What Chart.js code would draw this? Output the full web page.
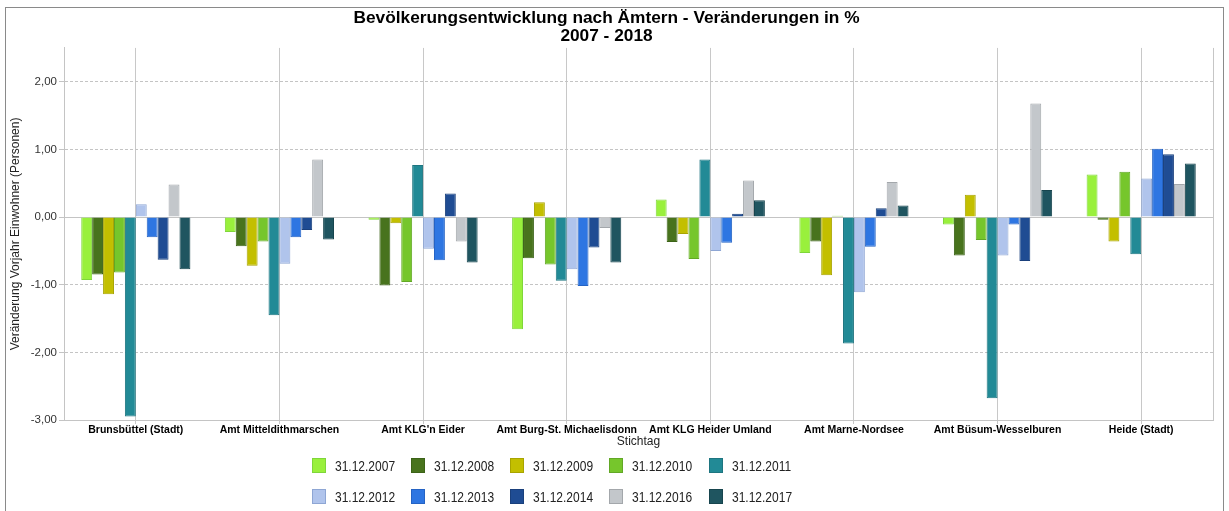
<!DOCTYPE html>
<html>
<head>
<meta charset="utf-8">
<script src="https://cdn.jsdelivr.net/npm/chart.js@4/dist/chart.umd.min.js"></script>
<style>
  html, body { margin: 0; padding: 0; background: #fff; }
  #wrap { position: relative; width: 1229px; height: 511px; overflow: hidden; }
  #frame { position: absolute; left: 5px; top: 7px; width: 1219px; height: 600px; border: 1px solid #8a8a8a; box-sizing: border-box; pointer-events: none; }
  canvas { position: absolute; left: 0; top: 0; }
  #legend { position: absolute; left: 0; top: 0; width: 1229px; height: 511px; pointer-events: none; font-family: "Liberation Sans", Arial, sans-serif; }
  .item { position: absolute; height: 15px; }
  .box { position: absolute; left: 0; top: 0; width: 14px; height: 15px; border: 1px solid; box-sizing: border-box; }
  .lbl { position: absolute; left: 23px; top: -1px; font-size: 15px; line-height: 17px; color: #222; white-space: nowrap; transform: scaleX(0.80); transform-origin: left center; }
</style>
</head>
<body>
<div id="wrap">
  <canvas id="c" width="1229" height="511"></canvas>
  <div id="legend"></div>
  <div id="frame"></div>
</div>
<script>
// ---- data ----
const categories = ["Brunsbüttel (Stadt)", "Amt Mitteldithmarschen", "Amt KLG'n Eider", "Amt Burg-St. Michaelisdonn", "Amt KLG Heider Umland", "Amt Marne-Nordsee", "Amt Büsum-Wesselburen", "Heide (Stadt)"];
const seriesNames = ["31.12.2007", "31.12.2008", "31.12.2009", "31.12.2010", "31.12.2011", "31.12.2012", "31.12.2013", "31.12.2014", "31.12.2016", "31.12.2017"];
const s2007 = [-0.93, -0.22, -0.04, -1.66, 0.26, -0.53, -0.11, 0.63];
const s2008 = [-0.85, -0.43, -1.01, -0.61, -0.37, -0.36, -0.57, -0.04];
const s2009 = [-1.14, -0.72, -0.09, 0.22, -0.25, -0.86, 0.33, -0.36];
const s2010 = [-0.82, -0.36, -0.96, -0.70, -0.62, 0.02, -0.34, 0.67];
const s2011 = [-2.95, -1.45, 0.77, -0.94, 0.85, -1.87, -2.68, -0.55];
const s2012 = [0.19, -0.69, -0.47, -0.77, -0.50, -1.11, -0.57, 0.57];
const s2013 = [-0.30, -0.30, -0.64, -1.02, -0.38, -0.44, -0.11, 1.01];
const s2014 = [-0.63, -0.19, 0.35, -0.45, 0.05, 0.13, -0.65, 0.93];
const s2016 = [0.48, 0.85, -0.36, -0.16, 0.54, 0.52, 1.68, 0.49];
const s2017 = [-0.77, -0.33, -0.67, -0.67, 0.25, 0.17, 0.40, 0.79];
const yTickValues = [-3, -2, -1, 0, 1, 2];
const titleLines = ["Bevölkerungsentwicklung nach Ämtern - Veränderungen in %", "2007 - 2018"];
const yTitle = "Veränderung Vorjahr Einwohner (Personen)";
const xTitle = "Stichtag";

// ---- styles ----
const fillColors = ["#99f03c", "#48731d", "#c3bf00", "#76c62c", "#228a96", "#b0c4ec", "#2e76e2", "#1f4c93", "#c3c7cb", "#1f5560"];
const lineColors = ["#7fd63a", "#3c6318", "#a8a400", "#62a826", "#1e7580", "#8ea6d4", "#2563c4", "#1a407c", "#a3a7ab", "#17454e"];

const allSeries = [s2007, s2008, s2009, s2010, s2011, s2012, s2013, s2014, s2016, s2017];
const datasets = allSeries.map((d, i) => ({
  label: seriesNames[i],
  data: d,
  backgroundColor: fillColors[i],
  borderColor: lineColors[i],
  borderWidth: 1,
  categoryPercentage: 0.76,
  barPercentage: 1.0
}));

const FONT = "'Liberation Sans', Arial, sans-serif";

const rightBorder = {
  id: 'rightBorder',
  beforeDatasetsDraw(chart) {
    const a = chart.chartArea, ctx = chart.ctx;
    ctx.save();
    ctx.strokeStyle = '#c6c6c6';
    ctx.lineWidth = 1;
    ctx.beginPath();
    ctx.moveTo(Math.round(a.right) + 0.5, a.top);
    ctx.lineTo(Math.round(a.right) + 0.5, a.bottom);
    ctx.stroke();
    ctx.restore();
  }
};

new Chart(document.getElementById('c'), {
  type: 'bar',
  data: { labels: categories, datasets },
  options: {
    responsive: false,
    animation: false,
    layout: { padding: { left: 0, right: 16, top: 0, bottom: 60 } },
    plugins: {
      legend: { display: false },
      tooltip: { enabled: false },
      title: {
        display: true,
        text: titleLines,
        color: '#000',
        font: { family: FONT, size: 17.3, weight: 'bold', lineHeight: 1.05 },
        padding: { top: 9, bottom: 2.6 }
      }
    },
    scales: {
      x: {
        grid: { offset: false, color: '#c8c8c8', tickColor: '#c8c8c8', tickLength: 4, lineWidth: 1 },
        border: { display: true, color: '#c4c4c4' },
        ticks: { color: '#000', font: { family: FONT, size: 10.5, weight: 'bold' }, padding: 0, maxRotation: 0, autoSkip: false },
        title: { display: true, text: xTitle, color: '#222', font: { family: FONT, size: 12 }, padding: { top: 0, bottom: 2 } },
        afterFit: s => { s.height = 31; }
      },
      y: {
        min: -3, max: 2.5,
        afterBuildTicks: s => { s.ticks = yTickValues.map(v => ({ value: v })); },
        grid: { color: '#c4c4c4', tickColor: '#c4c4c4', tickLength: 5, lineWidth: 1 },
        border: { display: true, color: '#c4c4c4', dash: ctx => (ctx.type === 'tick' && ctx.tick && ctx.tick.value !== 0) ? [3, 2] : [] },
        ticks: { color: '#333', font: { family: FONT, size: 11.5 }, padding: 2, callback: v => v.toFixed(2).replace('.', ',') },
        title: { display: true, text: yTitle, color: '#222', font: { family: FONT, size: 12 }, padding: { top: 8, bottom: 0 } },
        afterFit: s => { s.width = 64; }
      }
    }
  },
  plugins: [rightBorder]
});

// ---- HTML legend (two rows of five) ----
const leg = document.getElementById('legend');
const colX = [312, 411, 510, 609, 709];
const rowY = [458, 489];
seriesNames.forEach((name, i) => {
  const it = document.createElement('div');
  it.className = 'item';
  it.style.left = colX[i % 5] + 'px';
  it.style.top = rowY[Math.floor(i / 5)] + 'px';
  const b = document.createElement('div');
  b.className = 'box';
  b.style.background = fillColors[i];
  b.style.borderColor = lineColors[i];
  const t = document.createElement('div');
  t.className = 'lbl';
  t.textContent = name;
  it.appendChild(b); it.appendChild(t);
  leg.appendChild(it);
});
</script>
</body>
</html>
